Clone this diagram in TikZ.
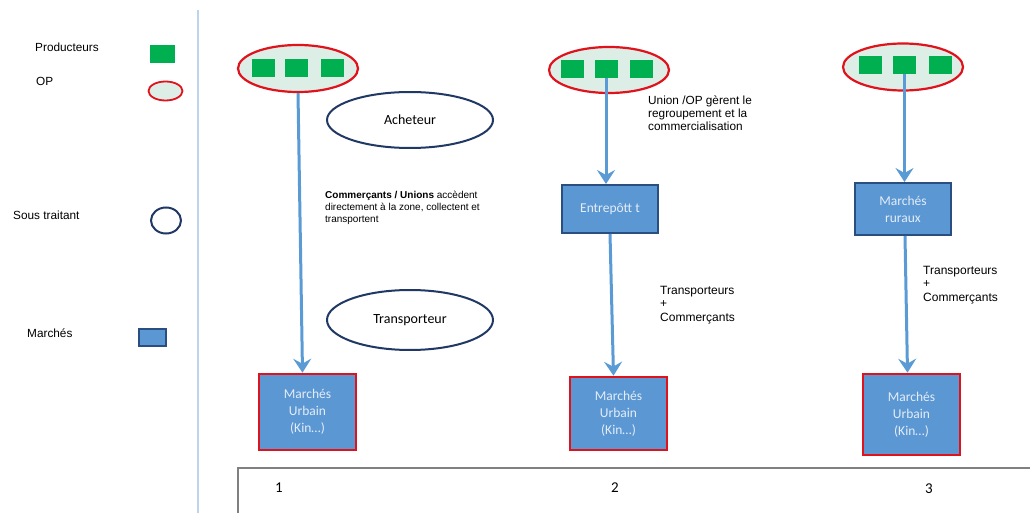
\documentclass[tikz,border=0pt]{standalone}
\usepackage{fontspec}
\setmainfont{Liberation Sans}
\newfontfamily\calfont{Carlito}
\usetikzlibrary{arrows.meta,shapes.geometric}
\definecolor{pgreen}{HTML}{00B050}
\definecolor{opred}{HTML}{E0121C}
\definecolor{opfill}{HTML}{DDEEE7}
\definecolor{mblue}{HTML}{5B97D3}
\definecolor{navy}{HTML}{203864}
\definecolor{boxnavy}{HTML}{2B4E80}
\definecolor{arrowblue}{HTML}{5B9BD5}
\definecolor{sepblue}{HTML}{BCD4EC}
\definecolor{boxtext}{HTML}{E4EDF8}
\begin{document}
\begin{tikzpicture}[x=1pt,y=-1pt,
 prod/.style={fill=pgreen, minimum width=23pt, minimum height=18pt, inner sep=0pt},
 opell/.style={ellipse, draw=opred, line width=2.2pt, fill=opfill, inner sep=0pt},
 subell/.style={ellipse, draw=navy, line width=2pt, fill=white, inner sep=0pt, font=\calfont\fontsize{14}{16}\selectfont},
 mkt/.style={fill=mblue, draw=boxnavy, line width=2pt, text=boxtext, font=\calfont\fontsize{13.5}{17}\selectfont, align=center, inner sep=0pt},
 urb/.style={mkt, draw=opred, line width=2.6pt},
 flow/.style={draw=arrowblue, line width=3pt, -{Stealth[length=14pt,width=18pt,inset=5pt]}},
 lbl/.style={font=\fontsize{12}{13.5}\selectfont, align=left, inner sep=0pt, anchor=north west},
 leg/.style={font=\fontsize{11.8}{13}\selectfont, inner sep=0pt, anchor=west},
 num/.style={font=\calfont\fontsize{15}{15}\selectfont, inner sep=0pt}
]
\useasboundingbox (0,0) rectangle (1030,513);
\draw[sepblue, line width=1.5pt] (198,10) -- (198,513);

% legend
\node[leg] (lprod) at (35,47) {Producteurs};
\node[prod, minimum width=25pt, minimum height=18pt] (lsq) at (162.5,54) {};
\node[leg] (lop) at (36,81) {OP};
\node[opell, minimum width=34pt, minimum height=19pt, line width=1.8pt] (lell) at (165.5,91) {};
\node[leg] (lsous) at (13,215) {Sous traitant};
\node[ellipse, draw=navy, line width=2pt, minimum width=30pt, minimum height=26pt, inner sep=0pt] (lcirc) at (166,220.5) {};
\node[leg] (lmar) at (27,333) {Marchés};
\node[mkt, minimum width=27pt, minimum height=17pt, line width=1.6pt] (lrect) at (152.5,337.5) {};

% column 1
\node[opell, minimum width=120pt, minimum height=47pt] (op1) at (298,68.5) {};
\node[prod] (s11) at (263.5,68) {};
\node[prod] (s12) at (296,68) {};
\node[prod] (s13) at (332.5,68) {};
\node[subell, minimum width=166pt, minimum height=56pt] (ach) at (410,120) {Acheteur};
\node[subell, minimum width=166pt, minimum height=60pt] (tra) at (410,320) {Transporteur};
\node[urb, minimum width=97pt, minimum height=76pt] (u1) at (307.5,412) {Marchés\\Urbain\\(Kin…)};
\draw[flow] (op1.south) -- ([xshift=-5pt]u1.north);
\node[lbl, font=\fontsize{10}{12}\selectfont] (t1) at (325,191) {\textbf{Commerçants / Unions} accèdent\\directement à la zone, collectent et\\transportent};

% column 2
\node[opell, minimum width=120pt, minimum height=46pt] (op2) at (609,70) {};
\node[prod] (s21) at (572.5,69) {};
\node[prod] (s22) at (606,69) {};
\node[prod] (s23) at (641,69) {};
\node[lbl, font=\fontsize{11.8}{13}\selectfont] (t2) at (648,96) {Union /OP gèrent le\\regroupement et la\\commercialisation};
\node[mkt, minimum width=96pt, minimum height=48pt] (e2) at (610,209) {Entrepôtt t};
\draw[flow] (s22.south) -- (e2.north -| s22.south);
\node[urb, minimum width=97pt, minimum height=73pt] (u2) at (618.5,413.5) {Marchés\\Urbain\\(Kin…)};
\draw[flow] (e2.south) -- ([xshift=-5pt]u2.north);
\node[lbl] (t2b) at (660,286) {Transporteurs\\+\\Commerçants};

% column 3
\node[opell, minimum width=120pt, minimum height=47pt] (op3) at (903,67) {};
\node[prod] (s31) at (870,65) {};
\node[prod] (s32) at (904.5,65) {};
\node[prod] (s33) at (940,65) {};
\node[mkt, minimum width=96pt, minimum height=52pt] (r3) at (903,209) {Marchés\\ruraux};
\draw[flow] (s32.south) -- (r3.north -| s32.south);
\node[urb, minimum width=97pt, minimum height=81pt] (u3) at (911.5,414.5) {Marchés\\Urbain\\(Kin…)};
\draw[flow] ([xshift=2pt]r3.south) -- ([xshift=-4pt]u3.north);
\node[lbl] (t3b) at (923,266) {Transporteurs\\+\\Commerçants};

% bottom frame
\coordinate (fa) at (238,513);
\coordinate (fb) at (238,468);
\coordinate (fc) at (1030,468);
\draw[gray, line width=1.6pt] (fa) -- (fb) -- (fc);
\node[num] (n1) at (279,488) {1};
\node[num] (n2) at (615,488) {2};
\node[num] (n3) at (929,489) {3};
\end{tikzpicture}
\end{document}
